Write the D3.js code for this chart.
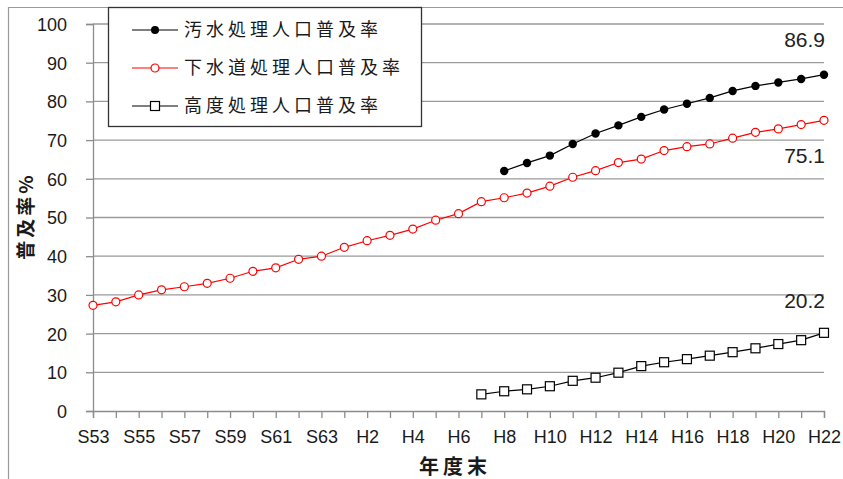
<!DOCTYPE html>
<html>
<head>
<meta charset="utf-8">
<script src="https://cdn.jsdelivr.net/npm/d3@7/dist/d3.min.js"></script>
<style>
  html, body { margin: 0; padding: 0; background: #fff; }
  svg { display: block; }
</style>
</head>
<body>
<svg id="chart" width="843" height="479"></svg>
<script>
// Fiscal years (Showa 53 – Heisei 22)
const years = ["S53","S54","S55","S56","S57","S58","S59","S60","S61","S62","S63",
  "H1","H2","H3","H4","H5","H6","H7","H8","H9","H10","H11","H12","H13","H14","H15",
  "H16","H17","H18","H19","H20","H21","H22"];
const tickLabels = ["S53","S55","S57","S59","S61","S63","H2","H4","H6","H8","H10",
  "H12","H14","H16","H18","H20","H22"];
const yTicks = [0,10,20,30,40,50,60,70,80,90,100];

// 汚水処理人口普及率 (H8 – H22)
const osuiYears = ["H8","H9","H10","H11","H12","H13","H14","H15","H16","H17","H18","H19","H20","H21","H22"];
const osuiValues = [62.0,64.1,66.0,69.0,71.7,73.8,76.0,77.9,79.4,80.9,82.7,84.0,84.9,85.8,86.9];

// 下水道処理人口普及率 (S53 – H22)
const gesuidoValues = [27.3,28.2,30.0,31.3,32.1,33.0,34.3,36.1,37.0,39.2,40.0,
  42.3,44.0,45.4,47.0,49.3,51.0,54.1,55.1,56.3,58.1,60.4,62.1,64.2,65.1,67.3,
  68.3,69.0,70.5,72.0,72.9,74.0,75.1];

// 高度処理人口普及率 (H7 – H22)
const kodoYears = ["H7","H8","H9","H10","H11","H12","H13","H14","H15","H16","H17","H18","H19","H20","H21","H22"];
const kodoValues = [4.3,5.1,5.6,6.4,7.8,8.6,9.9,11.6,12.6,13.4,14.3,15.2,16.2,17.3,18.3,20.2];

const svg = d3.select("#chart");
const W = 843, H = 479;

const x = d3.scalePoint().domain(years).range([93, 824]);
const y = d3.scaleLinear().domain([0, 100]).range([411, 24]);

const latin = "'Liberation Sans', Arial, sans-serif";
const cjk = "'Noto Sans CJK JP', 'Noto Sans', sans-serif";

// outer frame (left and top edges)
svg.append("path")
  .attr("d", `M8.5,${H} V7.5 H${W}`)
  .attr("fill", "none").attr("stroke", "#9a9a9a").attr("stroke-width", 1.2);

// horizontal gridlines
svg.append("g").selectAll("line").data(yTicks.filter(d => d > 0)).join("line")
  .attr("x1", 93).attr("x2", 824)
  .attr("y1", d => y(d)).attr("y2", d => y(d))
  .attr("stroke", "#9a9a9a").attr("stroke-width", 1.3);

// y axis
const yAxis = d3.axisLeft(y).tickValues(yTicks).tickSize(7).tickPadding(19);
const gy = svg.append("g").attr("transform", "translate(93,0)").call(yAxis);
gy.select(".domain").attr("stroke", "#8c8c8c").attr("stroke-width", 1.3);
gy.selectAll(".tick line").attr("stroke", "#8c8c8c").attr("stroke-width", 1.3);
gy.selectAll(".tick text").attr("font-family", latin).attr("font-size", 18)
  .attr("fill", "#1a1a1a").attr("dy", "0.36em");

// x axis
const xAxis = d3.axisBottom(x).tickSize(7).tickPadding(12)
  .tickFormat(d => tickLabels.includes(d) ? d : "");
const gx = svg.append("g").attr("transform", "translate(0,411)").call(xAxis);
gx.select(".domain").attr("stroke", "#8c8c8c").attr("stroke-width", 1.3);
gx.selectAll(".tick line").attr("stroke", "#8c8c8c").attr("stroke-width", 1.3);
gx.selectAll(".tick text").attr("font-family", latin).attr("font-size", 18)
  .attr("fill", "#1a1a1a");

// axis titles
svg.append("text").attr("x", 455).attr("y", 474).attr("text-anchor", "middle")
  .attr("font-family", cjk).attr("font-size", 20).attr("font-weight", "bold")
  .attr("letter-spacing", 4).attr("fill", "#1a1a1a").text("年度末");
svg.append("text").attr("transform", "translate(33,216) rotate(-90)")
  .attr("text-anchor", "middle")
  .attr("font-family", cjk).attr("font-size", 19).attr("font-weight", "bold")
  .attr("letter-spacing", 3).attr("fill", "#1a1a1a").text("普及率%");

const line = d3.line().x(d => x(d[0])).y(d => y(d[1]));

// 下水道処理人口普及率
const gesuido = d3.zip(years, gesuidoValues);
svg.append("path").datum(gesuido).attr("d", line)
  .attr("fill", "none").attr("stroke", "#ff0000").attr("stroke-width", 1.2);
svg.append("g").selectAll("circle").data(gesuido).join("circle")
  .attr("cx", d => x(d[0])).attr("cy", d => y(d[1])).attr("r", 4)
  .attr("fill", "#fff").attr("stroke", "#ff0000").attr("stroke-width", 1.2);

// 汚水処理人口普及率
const osui = d3.zip(osuiYears, osuiValues);
svg.append("path").datum(osui).attr("d", line)
  .attr("fill", "none").attr("stroke", "#000").attr("stroke-width", 1.2);
svg.append("g").selectAll("circle").data(osui).join("circle")
  .attr("cx", d => x(d[0])).attr("cy", d => y(d[1])).attr("r", 4.2)
  .attr("fill", "#000");

// 高度処理人口普及率
const kodo = d3.zip(kodoYears, kodoValues);
svg.append("path").datum(kodo).attr("d", line)
  .attr("fill", "none").attr("stroke", "#000").attr("stroke-width", 1.2);
svg.append("g").selectAll("rect").data(kodo).join("rect")
  .attr("x", d => x(d[0]) - 4.5).attr("y", d => y(d[1]) - 4.5)
  .attr("width", 9).attr("height", 9)
  .attr("fill", "#fff").attr("stroke", "#000").attr("stroke-width", 1.2);

// end-of-series value labels
const endLabels = [
  { v: osuiValues[osuiValues.length - 1], yPos: 47 },
  { v: gesuidoValues[gesuidoValues.length - 1], yPos: 163 },
  { v: kodoValues[kodoValues.length - 1], yPos: 308 }
];
svg.append("g").selectAll("text").data(endLabels).join("text")
  .attr("x", 825).attr("y", d => d.yPos).attr("text-anchor", "end")
  .attr("font-family", latin).attr("font-size", 21).attr("fill", "#222")
  .text(d => d.v.toFixed(1));

// legend
const legendItems = [
  { name: "汚水処理人口普及率", color: "#000", marker: "dot" },
  { name: "下水道処理人口普及率", color: "#ff0000", marker: "ring" },
  { name: "高度処理人口普及率", color: "#000", marker: "square" }
];
const lg = svg.append("g");
lg.append("rect").attr("x", 108.5).attr("y", 7.5).attr("width", 313).attr("height", 119)
  .attr("fill", "#fff").attr("stroke", "#333").attr("stroke-width", 1.3);
const rows = lg.selectAll("g.item").data(legendItems).join("g")
  .attr("class", "item")
  .attr("transform", (d, i) => `translate(0,${30 + i * 38})`);
rows.append("line").attr("x1", 132).attr("x2", 178).attr("y1", 0).attr("y2", 0)
  .attr("stroke", d => d.color).attr("stroke-width", 1.2);
rows.each(function (d) {
  const g = d3.select(this);
  if (d.marker === "dot") {
    g.append("circle").attr("cx", 155).attr("cy", 0).attr("r", 4).attr("fill", "#000");
  } else if (d.marker === "ring") {
    g.append("circle").attr("cx", 155).attr("cy", 0).attr("r", 4)
      .attr("fill", "#fff").attr("stroke", "#ff0000").attr("stroke-width", 1.2);
  } else {
    g.append("rect").attr("x", 150.5).attr("y", -4.5).attr("width", 9).attr("height", 9)
      .attr("fill", "#fff").attr("stroke", "#000").attr("stroke-width", 1.2);
  }
});
rows.append("text").attr("x", 184).attr("y", 0).attr("dy", "0.36em")
  .attr("font-family", cjk).attr("font-size", 18).attr("letter-spacing", 4)
  .attr("fill", "#1a1a1a").text(d => d.name);
</script>
</body>
</html>
